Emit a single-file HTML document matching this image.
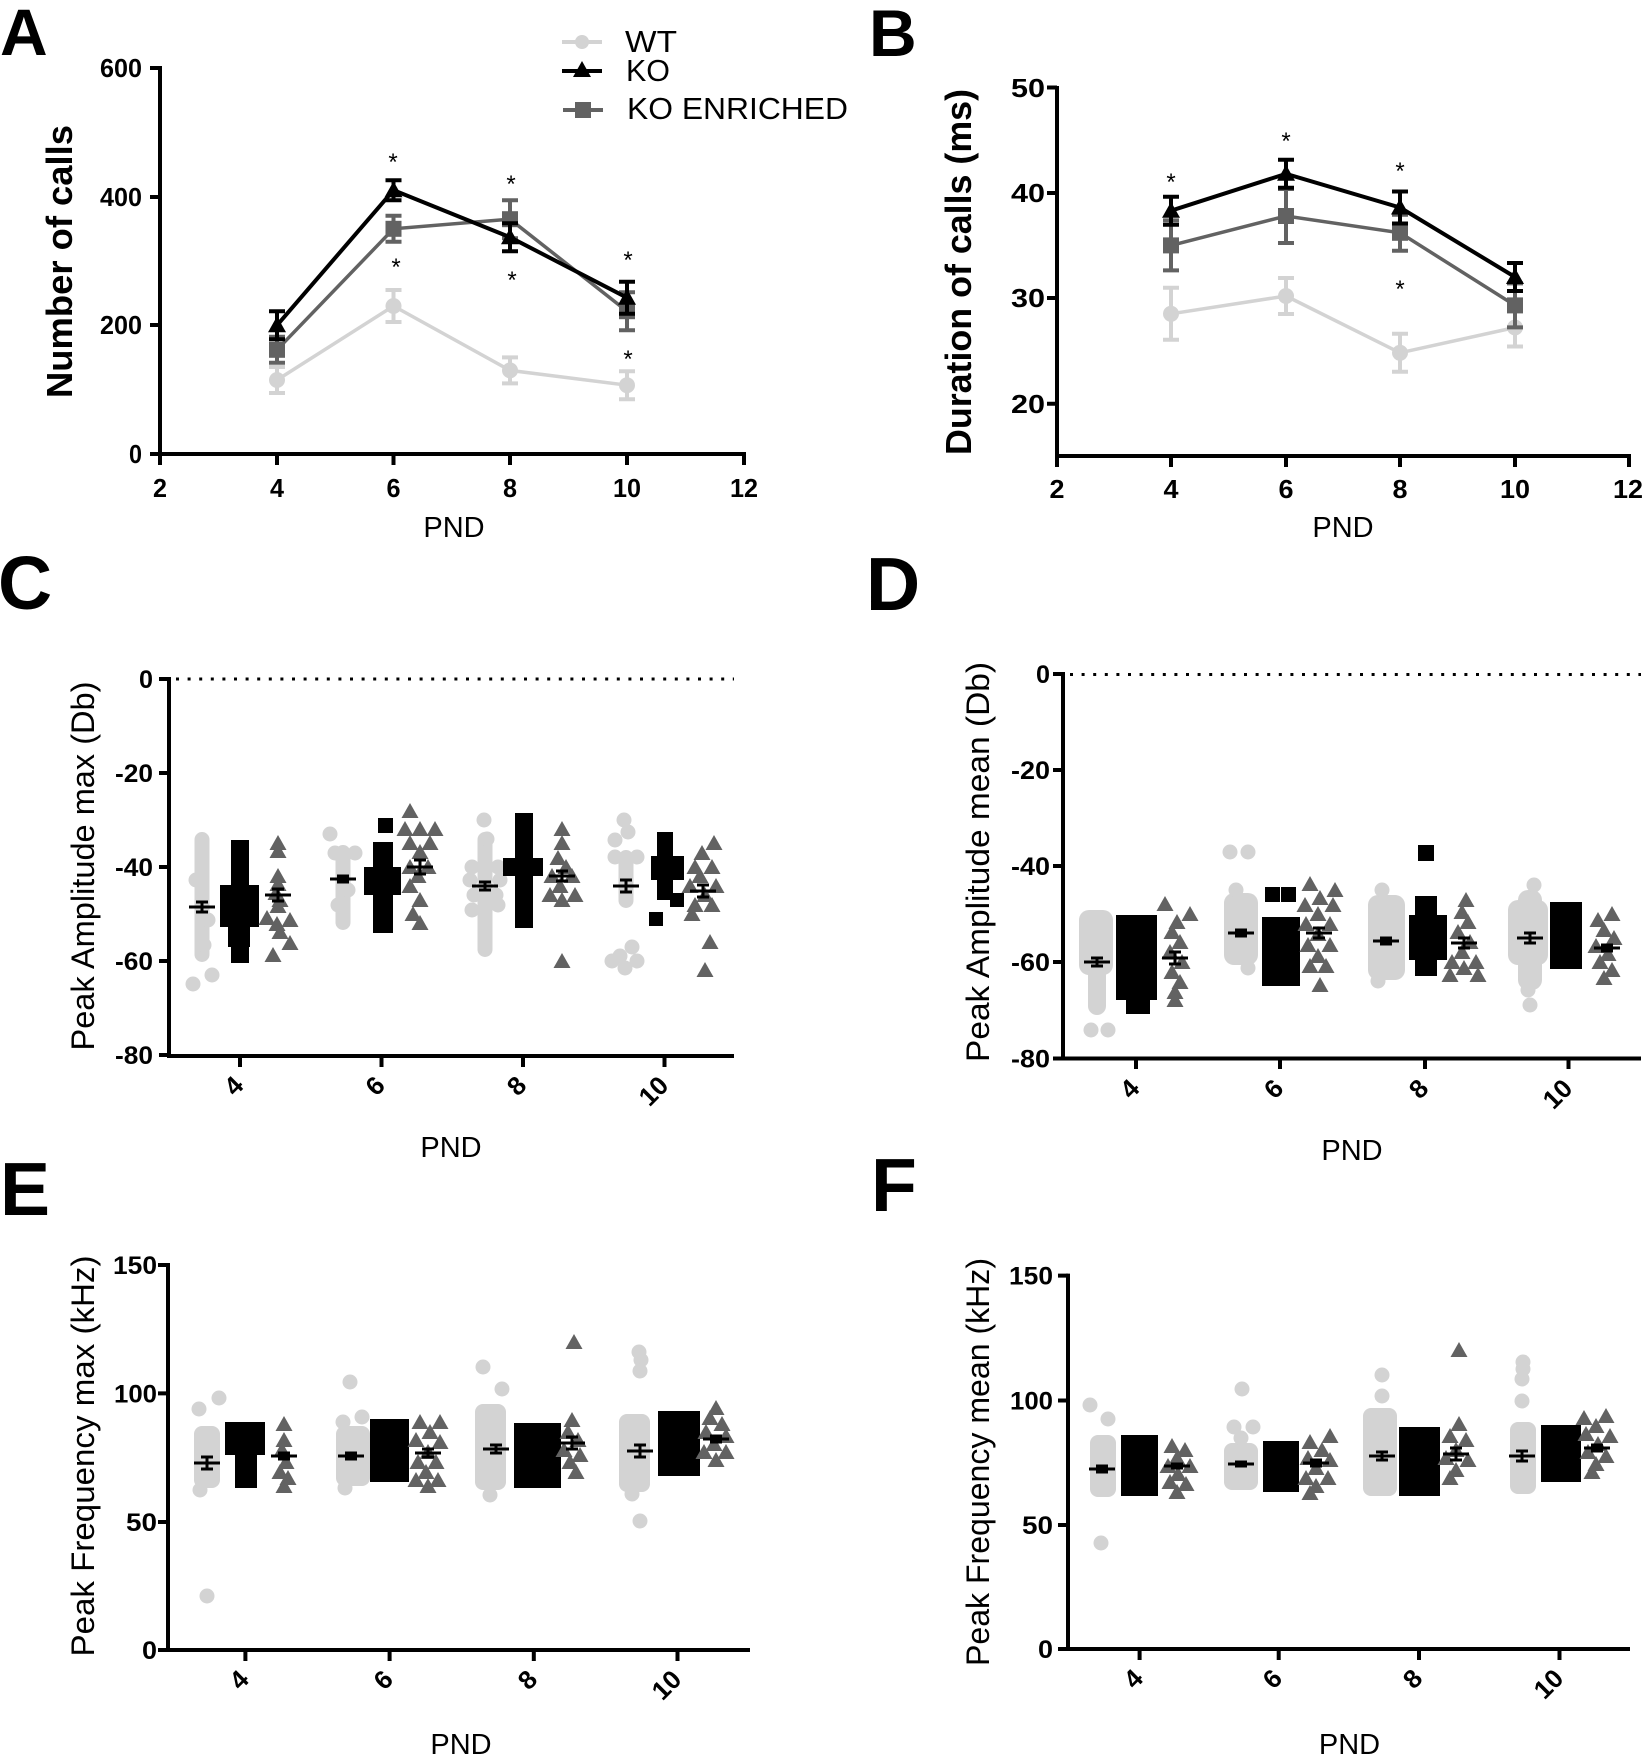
<!DOCTYPE html>
<html><head><meta charset="utf-8"><style>
html,body{margin:0;padding:0;background:#fff;}
svg{display:block;}
text{font-family:"Liberation Sans",Arial,sans-serif;fill:#000;}
.tk{font-size:25px;font-weight:bold;}
.tr{font-size:26px;font-weight:bold;}
.tb{font-size:26px;font-weight:bold;}
.yl{font-size:36px;font-weight:bold;}
.yr{font-size:32px;}
.pnd{font-size:29px;}
.lg{font-size:31px;}
.let{font-weight:bold;}
.st{font-size:24px;}
</style></head><body>
<svg width="1645" height="1756" viewBox="0 0 1645 1756" xmlns="http://www.w3.org/2000/svg">
<defs>
<circle id="w" r="7.5" fill="#d3d3d3"/>
<rect id="k" x="-7.5" y="-7.5" width="15" height="15" fill="#000"/>
<path id="g" d="M0,-8L8.5,7H-8.5Z" fill="#626262"/>
<path id="tri" d="M0,-9L9,7H-9Z" fill="#000"/>
</defs>

<!-- Panel letters -->
<text class="let" x="0" y="55" font-size="66">A</text>
<text class="let" x="869" y="56" font-size="66">B</text>
<text class="let" x="-2" y="609" font-size="75">C</text>
<text class="let" x="866" y="610" font-size="75">D</text>
<text class="let" x="0" y="1215" font-size="75">E</text>
<text class="let" x="871" y="1211" font-size="75">F</text>

<!-- ================= PANEL A ================= -->
<g stroke="#000" stroke-width="4" fill="none">
<path d="M160,66V456M158,454H746"/>
<path d="M150,68H160M150,197H160M150,325H160M150,454H160"/>
<path d="M160,454V465M277,454V465M393.5,454V465M510,454V465M627,454V465M744,454V465"/>
</g>
<g class="tb" text-anchor="end">
<text x="142" y="77" textLength="42" lengthAdjust="spacingAndGlyphs">600</text>
<text x="142" y="206" textLength="42" lengthAdjust="spacingAndGlyphs">400</text>
<text x="142" y="334" textLength="42" lengthAdjust="spacingAndGlyphs">200</text>
<text x="142" y="463" textLength="13" lengthAdjust="spacingAndGlyphs">0</text>
</g>
<g class="tb" text-anchor="middle">
<text x="160" y="497" textLength="14" lengthAdjust="spacingAndGlyphs">2</text><text x="277" y="497" textLength="14" lengthAdjust="spacingAndGlyphs">4</text><text x="393.5" y="497" textLength="14" lengthAdjust="spacingAndGlyphs">6</text>
<text x="510" y="497" textLength="14" lengthAdjust="spacingAndGlyphs">8</text>
<text x="627" y="497" textLength="28" lengthAdjust="spacingAndGlyphs">10</text>
<text x="744" y="497" textLength="28" lengthAdjust="spacingAndGlyphs">12</text>
</g>
<text class="yl" transform="translate(72,261.5) rotate(-90)" text-anchor="middle" textLength="273" lengthAdjust="spacingAndGlyphs">Number of calls</text>
<text class="pnd" x="454" y="537" text-anchor="middle">PND</text>

<!-- A WT -->
<polyline points="277,380 393.5,306 510,370.4 627,385.2" fill="none" stroke="#d3d3d3" stroke-width="3.5"/>
<path stroke="#d3d3d3" stroke-width="4" fill="none" d="M277,367V393M269,367H285M269,393H285M393.5,290V322M385.5,290H401.5M385.5,322H401.5M510,357.4V383.4M502,357.4H518M502,383.4H518M627,371.2V399.2M619,371.2H635M619,399.2H635"/>
<g fill="#d3d3d3"><circle cx="277" cy="380" r="8"/><circle cx="393.5" cy="306" r="8"/><circle cx="510" cy="370.4" r="8"/><circle cx="627" cy="385.2" r="8"/></g>
<!-- A ENR -->
<polyline points="277,349.8 393.5,228.8 510,219.2 627,311.2" fill="none" stroke="#626262" stroke-width="3.5"/>
<path stroke="#626262" stroke-width="4" fill="none" d="M277,336.8V362.8M269,336.8H285M269,362.8H285M393.5,215.8V241.8M385.5,215.8H401.5M385.5,241.8H401.5M510,200.2V238.2M502,200.2H518M502,238.2H518M627,292.2V330.2M619,292.2H635M619,330.2H635"/>
<g fill="#626262"><rect x="269" y="341.8" width="16" height="16"/><rect x="385.5" y="220.8" width="16" height="16"/><rect x="502" y="211.2" width="16" height="16"/><rect x="619" y="303.2" width="16" height="16"/></g>
<!-- A KO -->
<polyline points="277,325.3 393.5,190.2 510,237.2 627,297.7" fill="none" stroke="#000" stroke-width="4"/>
<path stroke="#000" stroke-width="4" fill="none" d="M277,311.3V339.3M269,311.3H285M269,339.3H285M393.5,180.2V200.2M385.5,180.2H401.5M385.5,200.2H401.5M510,223.2V251.2M502,223.2H518M502,251.2H518M627,281.7V313.7M619,281.7H635M619,313.7H635"/>
<use href="#tri" x="277" y="325.3"/><use href="#tri" x="393.5" y="190.2"/><use href="#tri" x="510" y="237.2"/><use href="#tri" x="627" y="297.7"/>
<!-- A stars -->
<g class="st" text-anchor="middle">
<text x="393" y="170">*</text><text x="396" y="275">*</text>
<text x="511" y="192">*</text><text x="512" y="288">*</text>
<text x="628" y="268">*</text><text x="628" y="367">*</text>
</g>
<!-- Legend -->
<path d="M562,42H602" stroke="#d3d3d3" stroke-width="4"/><circle cx="582" cy="42" r="7" fill="#d3d3d3"/>
<path d="M562,71H602" stroke="#000" stroke-width="4"/><use href="#tri" x="582" y="70"/>
<path d="M563,110H603" stroke="#626262" stroke-width="4"/><rect x="575" y="102" width="16" height="16" fill="#626262"/>
<text class="lg" x="625" y="52" textLength="52" lengthAdjust="spacingAndGlyphs">WT</text>
<text class="lg" x="626" y="81" textLength="44" lengthAdjust="spacingAndGlyphs">KO</text>
<text class="lg" x="627" y="119" textLength="221" lengthAdjust="spacingAndGlyphs">KO ENRICHED</text>

<!-- ================= PANEL B ================= -->
<g stroke="#000" stroke-width="4" fill="none">
<path d="M1057,86V458M1055,456H1631"/>
<path d="M1047,87.5H1057M1047,193H1057M1047,298H1057M1047,403.7H1057"/>
<path d="M1057,456V467M1171,456V467M1286,456V467M1400,456V467M1515,456V467M1629,456V467"/>
</g>
<g class="tb" text-anchor="end">
<text x="1045" y="97" textLength="34" lengthAdjust="spacingAndGlyphs">50</text>
<text x="1045" y="202" textLength="34" lengthAdjust="spacingAndGlyphs">40</text>
<text x="1045" y="307" textLength="34" lengthAdjust="spacingAndGlyphs">30</text>
<text x="1045" y="413" textLength="34" lengthAdjust="spacingAndGlyphs">20</text>
</g>
<g class="tb" text-anchor="middle">
<text x="1057" y="498" textLength="15" lengthAdjust="spacingAndGlyphs">2</text><text x="1171" y="498" textLength="15" lengthAdjust="spacingAndGlyphs">4</text><text x="1286" y="498" textLength="15" lengthAdjust="spacingAndGlyphs">6</text>
<text x="1400" y="498" textLength="15" lengthAdjust="spacingAndGlyphs">8</text>
<text x="1515" y="498" textLength="30" lengthAdjust="spacingAndGlyphs">10</text>
<text x="1628" y="498" textLength="30" lengthAdjust="spacingAndGlyphs">12</text>
</g>
<text class="yl" transform="translate(971,272) rotate(-90)" text-anchor="middle" textLength="366" lengthAdjust="spacingAndGlyphs">Duration of calls (ms)</text>
<text class="pnd" x="1343" y="537" text-anchor="middle">PND</text>

<!-- B WT -->
<polyline points="1171,313.8 1286,296 1400,352.8 1515,327.5" fill="none" stroke="#d3d3d3" stroke-width="3.5"/>
<path stroke="#d3d3d3" stroke-width="4" fill="none" d="M1171,287.8V339.8M1163,287.8H1179M1163,339.8H1179M1286,278V314M1278,278H1294M1278,314H1294M1400,333.8V371.8M1392,333.8H1408M1392,371.8H1408M1515,308.5V346.5M1507,308.5H1523M1507,346.5H1523"/>
<g fill="#d3d3d3"><circle cx="1171" cy="313.8" r="8"/><circle cx="1286" cy="296" r="8"/><circle cx="1400" cy="352.8" r="8"/><circle cx="1515" cy="327.5" r="8"/></g>
<!-- B ENR -->
<polyline points="1171,245.4 1286,216 1400,232.8 1515,305.4" fill="none" stroke="#626262" stroke-width="3.5"/>
<path stroke="#626262" stroke-width="4" fill="none" d="M1171,220.4V270.4M1163,220.4H1179M1163,270.4H1179M1286,189V243M1278,189H1294M1278,243H1294M1400,214.8V250.8M1392,214.8H1408M1392,250.8H1408M1515,283.4V327.4M1507,283.4H1523M1507,327.4H1523"/>
<g fill="#626262"><rect x="1163" y="237.4" width="16" height="16"/><rect x="1278" y="208" width="16" height="16"/><rect x="1392" y="224.8" width="16" height="16"/><rect x="1507" y="297.4" width="16" height="16"/></g>
<!-- B KO -->
<polyline points="1171,210.7 1286,173.8 1400,207.5 1515,277" fill="none" stroke="#000" stroke-width="4"/>
<path stroke="#000" stroke-width="4" fill="none" d="M1171,196.7V224.7M1163,196.7H1179M1163,224.7H1179M1286,159.8V187.8M1278,159.8H1294M1278,187.8H1294M1400,191.5V223.5M1392,191.5H1408M1392,223.5H1408M1515,263V291M1507,263H1523M1507,291H1523"/>
<use href="#tri" x="1171" y="210.7"/><use href="#tri" x="1286" y="173.8"/><use href="#tri" x="1400" y="207.5"/><use href="#tri" x="1515" y="277"/>
<g class="st" text-anchor="middle">
<text x="1171" y="190">*</text><text x="1286" y="149">*</text>
<text x="1400" y="179">*</text><text x="1400" y="297">*</text>
</g>

<!-- ================= PANEL C ================= -->
<path d="M176,679H734" stroke="#000" stroke-width="3" stroke-dasharray="3 8.6" fill="none"/>
<g stroke="#000" stroke-width="4" fill="none">
<path d="M169,677V1058M167,1056H734"/>
<path d="M159,679H169M159,773H169M159,867H169M159,961H169M159,1055H169"/>
<path d="M240,1056V1067M381.5,1056V1067M523,1056V1067M664.5,1056V1067"/>
</g>
<g class="tk" text-anchor="end">
<text x="153" y="688" textLength="14" lengthAdjust="spacingAndGlyphs">0</text>
<text x="153" y="782" textLength="38" lengthAdjust="spacingAndGlyphs">-20</text>
<text x="153" y="876" textLength="38" lengthAdjust="spacingAndGlyphs">-40</text>
<text x="153" y="970" textLength="38" lengthAdjust="spacingAndGlyphs">-60</text>
<text x="153" y="1064" textLength="38" lengthAdjust="spacingAndGlyphs">-80</text>
</g>
<g class="tr" text-anchor="end">
<text transform="translate(245,1087) rotate(-45)">4</text>
<text transform="translate(386.5,1087) rotate(-45)">6</text>
<text transform="translate(528,1087) rotate(-45)">8</text>
<text transform="translate(670,1087) rotate(-45)" textLength="29" lengthAdjust="spacingAndGlyphs">10</text>
</g>
<text class="yr" transform="translate(94,866) rotate(-90)" text-anchor="middle" textLength="369" lengthAdjust="spacingAndGlyphs">Peak Amplitude max (Db)</text>
<text class="pnd" x="451" y="1157" text-anchor="middle">PND</text>

<!-- C WT -->
<g fill="#d3d3d3">
<rect x="194.5" y="832" width="15" height="130" rx="7.5"/>
<rect x="335.5" y="845" width="15" height="85" rx="7.5"/>
<rect x="477.5" y="832" width="15" height="125" rx="7.5"/>
<rect x="618.5" y="850" width="15" height="58" rx="7.5"/>
</g>
<use href="#w" x="193" y="984"/><use href="#w" x="212" y="975"/><use href="#w" x="196" y="880"/><use href="#w" x="208" y="920"/><use href="#w" x="204" y="945"/>
<use href="#w" x="330" y="834"/><use href="#w" x="335" y="853"/><use href="#w" x="355" y="853"/><use href="#w" x="348" y="890"/><use href="#w" x="338" y="905"/>
<use href="#w" x="484" y="820"/><use href="#w" x="487" y="839"/><use href="#w" x="472" y="867"/><use href="#w" x="498" y="867"/><use href="#w" x="470" y="880"/><use href="#w" x="500" y="880"/><use href="#w" x="474" y="895"/><use href="#w" x="496" y="895"/><use href="#w" x="472" y="910"/><use href="#w" x="498" y="905"/>
<use href="#w" x="624" y="820"/><use href="#w" x="628" y="832"/><use href="#w" x="615" y="840"/><use href="#w" x="615" y="857"/><use href="#w" x="637" y="857"/><use href="#w" x="632" y="947"/><use href="#w" x="620" y="956"/><use href="#w" x="612" y="961"/><use href="#w" x="637" y="961"/><use href="#w" x="625" y="968"/>
<!-- C KO -->
<g fill="#000">
<rect x="231" y="840" width="18" height="123"/><rect x="220" y="885" width="39" height="42"/><rect x="228" y="927" width="22" height="20"/>
<rect x="378" y="818" width="15" height="15"/><rect x="373" y="842" width="20" height="91"/><rect x="364" y="867" width="37" height="28"/>
<rect x="515" y="813" width="18" height="115"/><rect x="503" y="858" width="40" height="18"/>
<rect x="657" y="832" width="16" height="68"/><rect x="651" y="856" width="33" height="24"/><rect x="670" y="893" width="14" height="14"/><rect x="649" y="912" width="14" height="14"/>
</g>
<!-- C ENR -->
<use href="#g" x="278" y="843"/><use href="#g" x="278" y="851"/><use href="#g" x="278" y="876"/><use href="#g" x="278" y="884"/><use href="#g" x="276" y="893"/><use href="#g" x="280" y="900"/><use href="#g" x="278" y="906"/><use href="#g" x="267" y="918"/><use href="#g" x="290" y="920"/><use href="#g" x="277" y="924"/><use href="#g" x="280" y="932"/><use href="#g" x="290" y="943"/><use href="#g" x="273" y="955"/>
<use href="#g" x="410" y="811"/><use href="#g" x="405" y="829"/><use href="#g" x="420" y="829"/><use href="#g" x="435" y="829"/><use href="#g" x="410" y="843"/><use href="#g" x="430" y="843"/><use href="#g" x="420" y="852"/><use href="#g" x="410" y="867"/><use href="#g" x="428" y="867"/><use href="#g" x="418" y="876"/><use href="#g" x="410" y="886"/><use href="#g" x="420" y="900"/><use href="#g" x="413" y="914"/><use href="#g" x="420" y="923"/>
<use href="#g" x="562" y="829"/><use href="#g" x="562" y="843"/><use href="#g" x="558" y="858"/><use href="#g" x="566" y="867"/><use href="#g" x="552" y="876"/><use href="#g" x="572" y="876"/><use href="#g" x="560" y="886"/><use href="#g" x="550" y="895"/><use href="#g" x="575" y="895"/><use href="#g" x="562" y="900"/><use href="#g" x="562" y="961"/>
<use href="#g" x="714" y="843"/><use href="#g" x="702" y="853"/><use href="#g" x="695" y="867"/><use href="#g" x="712" y="867"/><use href="#g" x="700" y="876"/><use href="#g" x="690" y="886"/><use href="#g" x="716" y="886"/><use href="#g" x="705" y="895"/><use href="#g" x="695" y="905"/><use href="#g" x="712" y="905"/><use href="#g" x="692" y="914"/><use href="#g" x="710" y="942"/><use href="#g" x="705" y="970"/>
<path stroke="#000" stroke-width="3" fill="none" d="M189,907H215M202,902V912M196,902H208M196,912H208M265,895H291M278,889V901M272,889H284M272,901H284M330,879H356M343,876V882M337,876H349M337,882H349M407,867H433M420,860V874M414,860H426M414,874H426M472,886H498M485,882V890M479,882H491M479,890H491M549,876H575M562,871V881M556,871H568M556,881H568M613,886H639M626,880V892M620,880H632M620,892H632M690,891H716M703,885V897M697,885H709M697,897H709"/>

<!-- ================= PANEL D ================= -->
<path d="M1070,674.5H1641" stroke="#000" stroke-width="3" stroke-dasharray="3 8.6" fill="none"/>
<g stroke="#000" stroke-width="4" fill="none">
<path d="M1063,672V1060.5M1061,1058.5H1641"/>
<path d="M1053,674H1063M1053,770H1063M1053,866H1063M1053,962H1063M1053,1058.5H1063"/>
<path d="M1136,1058.5V1069M1280,1058.5V1069M1425,1058.5V1069M1568.5,1058.5V1069"/>
</g>
<g class="tk" text-anchor="end">
<text x="1050" y="683" textLength="14" lengthAdjust="spacingAndGlyphs">0</text>
<text x="1050" y="779" textLength="39" lengthAdjust="spacingAndGlyphs">-20</text>
<text x="1050" y="875" textLength="39" lengthAdjust="spacingAndGlyphs">-40</text>
<text x="1050" y="971" textLength="39" lengthAdjust="spacingAndGlyphs">-60</text>
<text x="1050" y="1067.5" textLength="39" lengthAdjust="spacingAndGlyphs">-80</text>
</g>
<g class="tr" text-anchor="end">
<text transform="translate(1141,1090) rotate(-45)">4</text>
<text transform="translate(1285,1090) rotate(-45)">6</text>
<text transform="translate(1430,1090) rotate(-45)">8</text>
<text transform="translate(1574,1090) rotate(-45)" textLength="29" lengthAdjust="spacingAndGlyphs">10</text>
</g>
<text class="yr" transform="translate(989,862) rotate(-90)" text-anchor="middle" textLength="400" lengthAdjust="spacingAndGlyphs">Peak Amplitude mean (Db)</text>
<text class="pnd" x="1352" y="1160" text-anchor="middle">PND</text>

<!-- D WT -->
<g fill="#d3d3d3">
<rect x="1079" y="910" width="34" height="65" rx="10"/><rect x="1088" y="965" width="18" height="50" rx="9"/>
<rect x="1224" y="893" width="34" height="72" rx="10"/>
<rect x="1368" y="895" width="37" height="85" rx="10"/>
<rect x="1518" y="890" width="24" height="100" rx="10"/><rect x="1508" y="900" width="40" height="65" rx="10"/>
</g>
<use href="#w" x="1091" y="1030"/><use href="#w" x="1108" y="1030"/><use href="#w" x="1097" y="1005"/>
<use href="#w" x="1230" y="852"/><use href="#w" x="1248" y="852"/><use href="#w" x="1236" y="890"/><use href="#w" x="1248" y="968"/>
<use href="#w" x="1382" y="890"/><use href="#w" x="1378" y="981"/>
<use href="#w" x="1534" y="885"/><use href="#w" x="1530" y="1005"/><use href="#w" x="1528" y="990"/>
<!-- D KO -->
<g fill="#000">
<rect x="1116" y="915" width="41" height="85"/><rect x="1126" y="995" width="24" height="19"/>
<rect x="1265" y="887" width="15" height="15"/><rect x="1281" y="887" width="15" height="15"/><rect x="1262" y="917" width="38" height="69"/>
<rect x="1418" y="845" width="16" height="16"/><rect x="1415" y="896" width="22" height="80"/><rect x="1409" y="915" width="38" height="45"/>
<rect x="1550" y="902" width="32" height="67"/>
</g>
<!-- D ENR -->
<use href="#g" x="1165" y="904"/><use href="#g" x="1190" y="914"/><use href="#g" x="1177" y="922"/><use href="#g" x="1172" y="932"/><use href="#g" x="1180" y="942"/><use href="#g" x="1170" y="952"/><use href="#g" x="1182" y="962"/><use href="#g" x="1172" y="972"/><use href="#g" x="1180" y="982"/><use href="#g" x="1175" y="992"/><use href="#g" x="1175" y="1000"/>
<use href="#g" x="1310" y="884"/><use href="#g" x="1335" y="890"/><use href="#g" x="1320" y="898"/><use href="#g" x="1305" y="905"/><use href="#g" x="1333" y="905"/><use href="#g" x="1318" y="914"/><use href="#g" x="1306" y="924"/><use href="#g" x="1330" y="924"/><use href="#g" x="1318" y="934"/><use href="#g" x="1308" y="945"/><use href="#g" x="1330" y="945"/><use href="#g" x="1318" y="956"/><use href="#g" x="1310" y="966"/><use href="#g" x="1326" y="966"/><use href="#g" x="1320" y="985"/>
<use href="#g" x="1466" y="900"/><use href="#g" x="1462" y="912"/><use href="#g" x="1468" y="922"/><use href="#g" x="1458" y="932"/><use href="#g" x="1470" y="942"/><use href="#g" x="1462" y="952"/><use href="#g" x="1452" y="962"/><use href="#g" x="1476" y="962"/><use href="#g" x="1450" y="975"/><use href="#g" x="1478" y="975"/><use href="#g" x="1464" y="968"/>
<use href="#g" x="1612" y="914"/><use href="#g" x="1598" y="920"/><use href="#g" x="1604" y="930"/><use href="#g" x="1614" y="938"/><use href="#g" x="1596" y="946"/><use href="#g" x="1608" y="954"/><use href="#g" x="1600" y="962"/><use href="#g" x="1612" y="970"/><use href="#g" x="1604" y="978"/>
<path stroke="#000" stroke-width="3" fill="none" d="M1084,962H1110M1097,958V966M1091,958H1103M1091,966H1103M1162,958H1188M1175,952V964M1169,952H1181M1169,964H1181M1228,933H1254M1241,930V936M1235,930H1247M1235,936H1247M1306,933H1332M1319,928V938M1313,928H1325M1313,938H1325M1373,941H1399M1386,938V944M1380,938H1392M1380,944H1392M1451,943H1477M1464,938V948M1458,938H1470M1458,948H1470M1517,938H1543M1530,933V943M1524,933H1536M1524,943H1536M1594,948H1620M1607,945V951M1601,945H1613M1601,951H1613"/>

<!-- ================= PANEL E ================= -->
<g stroke="#000" stroke-width="4" fill="none">
<path d="M168,1263V1652M166,1650H750"/>
<path d="M158,1265H168M158,1393.4H168M158,1522H168M158,1650H168"/>
<path d="M245.4,1650V1661M389.6,1650V1661M533.8,1650V1661M677.5,1650V1661"/>
</g>
<g class="tk" text-anchor="end">
<text x="157" y="1274" textLength="44" lengthAdjust="spacingAndGlyphs">150</text>
<text x="157" y="1402.4" textLength="43" lengthAdjust="spacingAndGlyphs">100</text>
<text x="157" y="1531" textLength="31" lengthAdjust="spacingAndGlyphs">50</text>
<text x="157" y="1659" textLength="15" lengthAdjust="spacingAndGlyphs">0</text>
</g>
<g class="tr" text-anchor="end">
<text transform="translate(250.4,1681) rotate(-45)">4</text>
<text transform="translate(394.6,1681) rotate(-45)">6</text>
<text transform="translate(538.8,1681) rotate(-45)">8</text>
<text transform="translate(683,1681) rotate(-45)" textLength="29" lengthAdjust="spacingAndGlyphs">10</text>
</g>
<text class="yr" transform="translate(94,1456) rotate(-90)" text-anchor="middle" textLength="401" lengthAdjust="spacingAndGlyphs">Peak Frequency max (kHz)</text>
<text class="pnd" x="461" y="1754" text-anchor="middle">PND</text>

<!-- E WT -->
<g fill="#d3d3d3">
<rect x="194" y="1426" width="26" height="62" rx="8"/>
<rect x="336" y="1426" width="34" height="60" rx="8"/>
<rect x="475" y="1404" width="31" height="86" rx="8"/>
<rect x="619" y="1414" width="31" height="78" rx="8"/>
</g>
<use href="#w" x="199" y="1409"/><use href="#w" x="219" y="1398"/><use href="#w" x="207" y="1596"/><use href="#w" x="200" y="1490"/>
<use href="#w" x="350" y="1382"/><use href="#w" x="343" y="1422"/><use href="#w" x="362" y="1417"/><use href="#w" x="345" y="1488"/>
<use href="#w" x="483" y="1367"/><use href="#w" x="502" y="1389"/><use href="#w" x="490" y="1495"/>
<use href="#w" x="639" y="1352"/><use href="#w" x="641" y="1360"/><use href="#w" x="640" y="1371"/><use href="#w" x="640" y="1521"/><use href="#w" x="632" y="1494"/>
<!-- E KO -->
<g fill="#000">
<rect x="225" y="1422" width="40" height="33"/><rect x="235" y="1455" width="22" height="33"/>
<rect x="370" y="1419" width="39" height="63"/>
<rect x="514" y="1423" width="47" height="65"/>
<rect x="658" y="1411" width="42" height="65"/>
</g>
<!-- E ENR -->
<use href="#g" x="284" y="1424"/><use href="#g" x="284" y="1440"/><use href="#g" x="282" y="1450"/><use href="#g" x="286" y="1462"/><use href="#g" x="280" y="1472"/><use href="#g" x="288" y="1478"/><use href="#g" x="284" y="1486"/>
<use href="#g" x="420" y="1422"/><use href="#g" x="440" y="1422"/><use href="#g" x="430" y="1432"/><use href="#g" x="416" y="1440"/><use href="#g" x="440" y="1442"/><use href="#g" x="428" y="1452"/><use href="#g" x="418" y="1462"/><use href="#g" x="436" y="1462"/><use href="#g" x="426" y="1472"/><use href="#g" x="416" y="1480"/><use href="#g" x="438" y="1480"/><use href="#g" x="428" y="1486"/>
<use href="#g" x="574" y="1342"/><use href="#g" x="572" y="1420"/><use href="#g" x="568" y="1432"/><use href="#g" x="578" y="1440"/><use href="#g" x="564" y="1450"/><use href="#g" x="580" y="1455"/><use href="#g" x="570" y="1462"/><use href="#g" x="576" y="1472"/>
<use href="#g" x="716" y="1408"/><use href="#g" x="710" y="1418"/><use href="#g" x="722" y="1424"/><use href="#g" x="706" y="1432"/><use href="#g" x="726" y="1436"/><use href="#g" x="714" y="1444"/><use href="#g" x="704" y="1452"/><use href="#g" x="726" y="1452"/><use href="#g" x="716" y="1460"/>
<path stroke="#000" stroke-width="3" fill="none" d="M194,1463H220M207,1457V1469M201,1457H213M201,1469H213M271,1456H297M284,1453V1459M278,1453H290M278,1459H290M338,1456H364M351,1453V1459M345,1453H357M345,1459H357M415,1453H441M428,1449V1457M422,1449H434M422,1457H434M483,1449H509M496,1445V1453M490,1445H502M490,1453H502M559,1443H585M572,1437V1449M566,1437H578M566,1449H578M627,1451H653M640,1445V1457M634,1445H646M634,1457H646M703,1439H729M716,1436V1442M710,1436H722M710,1442H722"/>

<!-- ================= PANEL F ================= -->
<g stroke="#000" stroke-width="4" fill="none">
<path d="M1068,1273.6V1651M1066,1649H1630"/>
<path d="M1058,1275.6H1068M1058,1400.5H1068M1058,1525H1068M1058,1649H1068"/>
<path d="M1139.6,1649V1660M1278.7,1649V1660M1419,1649V1660M1559.5,1649V1660"/>
</g>
<g class="tk" text-anchor="end">
<text x="1053" y="1284.6" textLength="44" lengthAdjust="spacingAndGlyphs">150</text>
<text x="1053" y="1409.5" textLength="43" lengthAdjust="spacingAndGlyphs">100</text>
<text x="1053" y="1534" textLength="31" lengthAdjust="spacingAndGlyphs">50</text>
<text x="1053" y="1658" textLength="15" lengthAdjust="spacingAndGlyphs">0</text>
</g>
<g class="tr" text-anchor="end">
<text transform="translate(1144.6,1680) rotate(-45)">4</text>
<text transform="translate(1283.7,1680) rotate(-45)">6</text>
<text transform="translate(1424,1680) rotate(-45)">8</text>
<text transform="translate(1565,1680) rotate(-45)" textLength="29" lengthAdjust="spacingAndGlyphs">10</text>
</g>
<text class="yr" transform="translate(989,1462) rotate(-90)" text-anchor="middle" textLength="408" lengthAdjust="spacingAndGlyphs">Peak Frequency mean (kHz)</text>
<text class="pnd" x="1349.5" y="1754" text-anchor="middle">PND</text>

<!-- F WT -->
<g fill="#d3d3d3">
<rect x="1090" y="1435" width="26" height="62" rx="8"/>
<rect x="1224" y="1443" width="34" height="47" rx="8"/>
<rect x="1363" y="1408" width="34" height="88" rx="8"/>
<rect x="1510" y="1422" width="26" height="72" rx="8"/>
</g>
<use href="#w" x="1090" y="1405"/><use href="#w" x="1108" y="1419"/><use href="#w" x="1101" y="1543"/>
<use href="#w" x="1242" y="1389"/><use href="#w" x="1234" y="1427"/><use href="#w" x="1253" y="1427"/><use href="#w" x="1241" y="1438"/>
<use href="#w" x="1382" y="1375"/><use href="#w" x="1382" y="1396"/>
<use href="#w" x="1523" y="1362"/><use href="#w" x="1523" y="1369"/><use href="#w" x="1522" y="1379"/><use href="#w" x="1522" y="1401"/>
<!-- F KO -->
<g fill="#000">
<rect x="1121" y="1435" width="37" height="61"/>
<rect x="1263" y="1441" width="36" height="51"/>
<rect x="1399" y="1427" width="41" height="69"/>
<rect x="1541" y="1425" width="40" height="57"/>
</g>
<!-- F ENR -->
<use href="#g" x="1172" y="1446"/><use href="#g" x="1185" y="1450"/><use href="#g" x="1177" y="1458"/><use href="#g" x="1168" y="1466"/><use href="#g" x="1190" y="1466"/><use href="#g" x="1178" y="1474"/><use href="#g" x="1170" y="1482"/><use href="#g" x="1186" y="1484"/><use href="#g" x="1177" y="1492"/>
<use href="#g" x="1330" y="1436"/><use href="#g" x="1310" y="1442"/><use href="#g" x="1322" y="1450"/><use href="#g" x="1308" y="1458"/><use href="#g" x="1330" y="1460"/><use href="#g" x="1316" y="1468"/><use href="#g" x="1306" y="1478"/><use href="#g" x="1328" y="1478"/><use href="#g" x="1316" y="1486"/><use href="#g" x="1310" y="1493"/>
<use href="#g" x="1459" y="1350"/><use href="#g" x="1459" y="1424"/><use href="#g" x="1450" y="1436"/><use href="#g" x="1466" y="1440"/><use href="#g" x="1456" y="1450"/><use href="#g" x="1446" y="1458"/><use href="#g" x="1468" y="1460"/><use href="#g" x="1456" y="1470"/><use href="#g" x="1450" y="1478"/>
<use href="#g" x="1584" y="1418"/><use href="#g" x="1606" y="1416"/><use href="#g" x="1596" y="1426"/><use href="#g" x="1586" y="1434"/><use href="#g" x="1610" y="1436"/><use href="#g" x="1598" y="1444"/><use href="#g" x="1588" y="1452"/><use href="#g" x="1606" y="1456"/><use href="#g" x="1596" y="1464"/><use href="#g" x="1592" y="1472"/>
<path stroke="#000" stroke-width="3" fill="none" d="M1089,1469H1115M1102,1466V1472M1096,1466H1108M1096,1472H1108M1164,1466H1190M1177,1464V1468M1171,1464H1183M1171,1468H1183M1228,1464H1254M1241,1462V1466M1235,1462H1247M1235,1466H1247M1303,1463H1329M1316,1460V1466M1310,1460H1322M1310,1466H1322M1369,1456H1395M1382,1452V1460M1376,1452H1388M1376,1460H1388M1443,1454H1469M1456,1448V1460M1450,1448H1462M1450,1460H1462M1509,1456H1535M1522,1451V1461M1516,1451H1528M1516,1461H1528M1584,1448H1610M1597,1445V1451M1591,1445H1603M1591,1451H1603"/>
</svg>
</body></html>
